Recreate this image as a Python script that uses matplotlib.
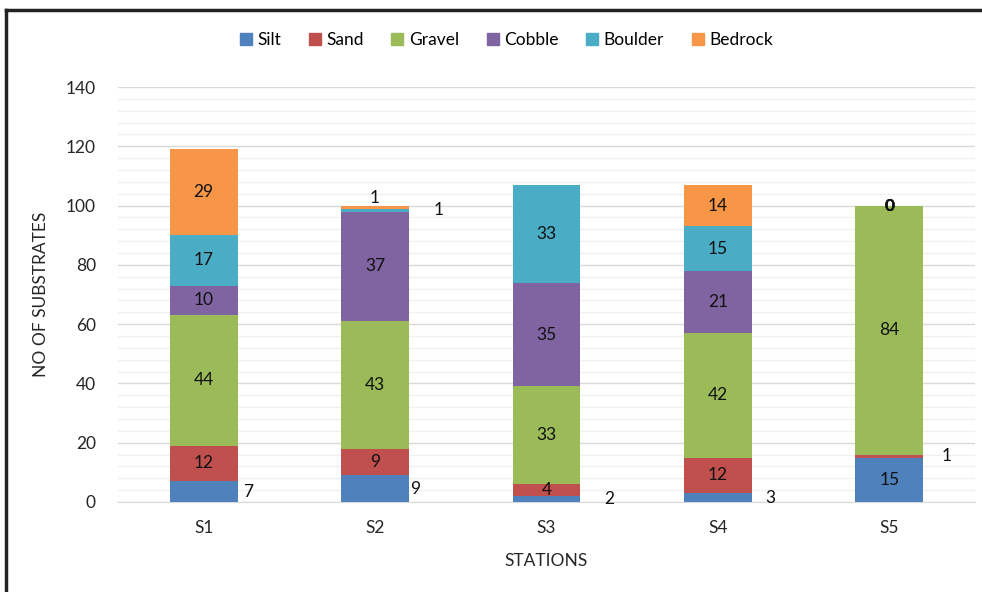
import matplotlib
matplotlib.use("Agg")
import matplotlib.pyplot as plt
import numpy as np
from matplotlib.lines import Line2D

plt.rcParams["font.family"] = ["Lato", "DejaVu Sans"]

stations = ["S1", "S2", "S3", "S4", "S5"]
layers = ["Silt", "Sand", "Gravel", "Cobble", "Boulder", "Bedrock"]
silt = [7, 9, 2, 3, 15]
sand = [12, 9, 4, 12, 1]
gravel = [44, 43, 33, 42, 84]
cobble = [10, 37, 35, 21, 0]
boulder = [17, 1, 33, 15, 0]
bedrock = [29, 1, 0, 14, 0]
series = [silt, sand, gravel, cobble, boulder, bedrock]
colors = ["#4F81BD", "#C0504D", "#9BBB59", "#8064A2", "#4BACC6", "#F79646"]

FS = 12.5
# labels that Excel pushed off the bar: (station, layer) -> x offset in points, or "top"
outside = {(0, 0): 4, (1, 0): 1, (2, 0): 17, (3, 0): 10, (4, 1): 13, (1, 4): 18, (1, 5): "top"}

fig = plt.figure(figsize=(9.82, 5.92), dpi=100)
ax = fig.add_axes([118 / 982, 1 - 502 / 592, 857 / 982, 415 / 592])

x = np.arange(len(stations))
w = 0.395
bottom = np.zeros(len(stations))
handles = []
for i, (name, vals, c) in enumerate(zip(layers, series, colors)):
    vals = np.array(vals, dtype=float)
    ax.bar(x, vals, w, bottom=bottom, color=c, edgecolor="none", zorder=3)
    handles.append(Line2D([], [], marker="s", ls="", color=c, markersize=8.5, label=name))
    for j, v in enumerate(vals):
        yc = bottom[j] + v / 2
        key = (j, i)
        if v == 0:
            if j == 4:
                ax.text(x[j], bottom[j], "0", ha="center", va="center", fontsize=FS,
                        fontweight="bold", color="#111111", zorder=5)
            continue
        if key in outside:
            if outside[key] == "top":
                ax.annotate(f"{v:g}", (x[j], bottom[j] + v), xytext=(0, 0), textcoords="offset points",
                            ha="center", va="bottom", fontsize=FS, color="#111111", zorder=5)
            else:
                ax.annotate(f"{v:g}", (x[j] + w / 2, yc), xytext=(outside[key], 0),
                            textcoords="offset points", ha="left", va="center",
                            fontsize=FS, color="#111111", zorder=5)
        else:
            ax.text(x[j], yc, f"{v:g}", ha="center", va="center", fontsize=FS,
                    color="#111111", zorder=5)
    bottom += vals

ax.set_xlim(-0.5, len(stations) - 0.5)
ax.set_ylim(0, 140)
ax.set_yticks(np.arange(0, 141, 20))
ax.set_yticks(np.arange(0, 141, 4), minor=True)
ax.grid(axis="y", which="major", color="#d9d9d9", lw=1.0, zorder=0)
ax.grid(axis="y", which="minor", color="#f0f0f0", lw=1.0, zorder=0)
ax.set_xticks(x)
ax.set_xticklabels(stations)
ax.tick_params(axis="both", which="both", length=0, labelsize=FS, colors="#262626")
ax.tick_params(axis="x", pad=13)
ax.tick_params(axis="y", pad=16)
for s in ["top", "right", "left"]:
    ax.spines[s].set_visible(False)
ax.spines["bottom"].set_color("#d9d9d9")

ax.set_xlabel("STATIONS", fontsize=FS, color="#262626", labelpad=12)
ax.set_ylabel("NO OF SUBSTRATES", fontsize=FS, color="#262626", labelpad=12)

fig.legend(handles=handles, loc="center", bbox_to_anchor=(505 / 982, 1 - 40 / 592), ncol=6,
           frameon=False, fontsize=FS, handletextpad=0.15, columnspacing=1.45, handlelength=1.0)

# outer frame (top and left edges visible in the source)
fig.add_artist(Line2D([6 / 982, 6 / 982], [0, 1 - 10 / 592], color="#222222", lw=2.5))
fig.add_artist(Line2D([6 / 982, 1], [1 - 10 / 592, 1 - 10 / 592], color="#222222", lw=2.5))

fig.savefig("out.png", dpi=100, facecolor="white")
